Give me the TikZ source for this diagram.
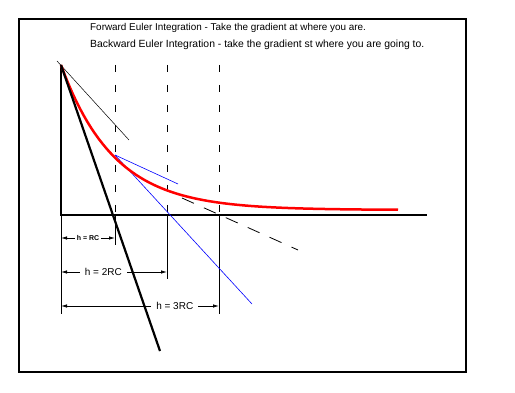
\documentclass[tikz,border=0pt]{standalone}
\usepackage{fontspec}
\setmainfont{Liberation Sans}
\usetikzlibrary{arrows.meta}
\tikzset{
  dimline/.style={line width=0.8pt,{Latex[length=6pt,width=3.5pt]}-{Latex[length=6pt,width=3.5pt]}},
  guide/.style={line width=0.8pt,dash pattern=on 7pt off 13pt},
  dimlabel/.style={fill=white,inner xsep=5pt,inner ysep=1.5pt,font=\fontsize{10}{12}\selectfont},
}

\begin{document}
\begin{tikzpicture}[x=1pt,y=-1pt]
  \useasboundingbox (0,0) rectangle (515,393);
  % frame
  \draw[line width=2pt] (19,19) rectangle (466,372);
  % title
  \node[anchor=west,inner sep=0pt,font=\fontsize{9.9}{12}\selectfont] (fwd) at (90,28) {Forward Euler Integration - Take the gradient at where you are.};
  \node[anchor=west,inner sep=0pt,font=\fontsize{10.4}{12}\selectfont] (bwd) at (90,45) {Backward Euler Integration - take the gradient st where you are going to.};
  % axes
  \coordinate (O) at (61,215);
  \coordinate (Y) at (61,65);
  \coordinate (X) at (427,215);
  \draw[line width=2.5pt] (Y) -- (O) -- (X);
  % steps
  \coordinate (s1) at (115,215);
  \coordinate (s2) at (167,215);
  \coordinate (s3) at (219,215);
  \draw[guide] (115,65) -- (s1);
  \draw[guide] (167,65) -- (s2);
  \draw[guide] (219,65) -- (s3);
  \draw[line width=0.8pt] (s1) -- (115,245);
  \draw[line width=0.8pt] (s2) -- (167,279);
  \draw[line width=0.8pt] (s3) -- (219,314);
  \draw[line width=0.8pt] (O) -- (61,314);
  % dims
  \draw[dimline] (61,238) -- (115,238) node[pos=0.5,dimlabel,font=\fontsize{7}{8}\selectfont\bfseries,inner xsep=1.5pt,inner ysep=0.5pt] {h = RC};
  \draw[dimline] (61,272) -- (167,272) node[pos=0.4,dimlabel] {h = 2RC};
  \draw[dimline] (61,306) -- (219,306) node[pos=0.72,dimlabel] {h = 3RC};
  % tangents
  \coordinate (P0) at (61,65);
  \coordinate (P1) at (115,155);
  \draw[line width=0.5pt] (57,61) -- (129,140);
  \draw[blue,line width=0.6pt] (P1) -- (178,184);
  \draw[blue,line width=0.6pt] (P1) -- (252,304);
  \draw[line width=0.8pt,dash pattern=on 13pt off 11pt] (182,198) -- (298,250);
  % solution
  \draw[red,line width=2.5pt] plot[domain=61:398,samples=90] (\x,{210-145*exp(-(\x-61)/53)});
  \draw[line width=2.2pt] (P0) -- (160,351);
\end{tikzpicture}
\end{document}
